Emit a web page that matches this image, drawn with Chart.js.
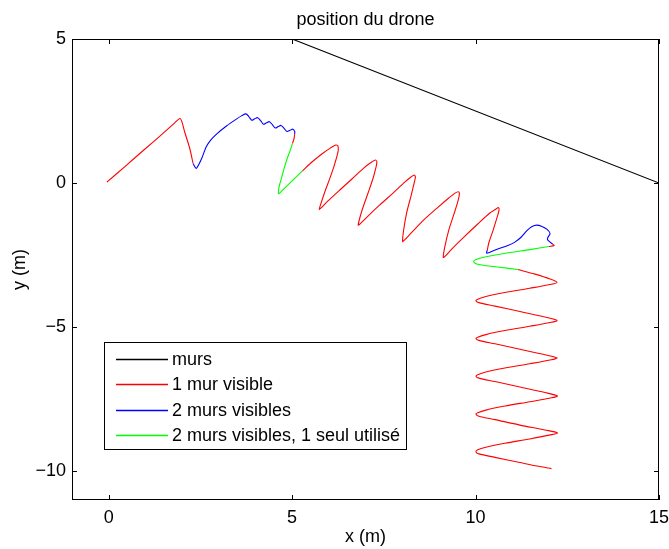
<!DOCTYPE html>
<html>
<head>
<meta charset="utf-8">
<script src="https://cdn.jsdelivr.net/npm/chart.js@4/dist/chart.umd.min.js"></script>
<style>
  html, body { margin: 0; padding: 0; background: #fff; }
  #wrap { width: 669px; height: 549px; }
</style>
</head>
<body>
<div id="wrap"><canvas id="c" width="669" height="549"></canvas></div>
<script>
// Walls of the room (x, y in metres)
const walls = [[-1, 5], [5, 5], [15, 0], [15, -11]];

// Drone trajectory, split by how many walls are seen along the way
const red1 = [[-0.05,0.03],[0.45,0.58],[0.95,1.14],[1.45,1.69],[1.80,2.09],[1.94,2.24],[1.99,2.15],[2.07,1.78],[2.21,1.20],[2.30,0.68]];
const blue1 = [[2.30,0.68],[2.35,0.56],[2.39,0.51],[2.45,0.63],[2.54,0.87],[2.66,1.26],[2.78,1.49],[2.94,1.70],[3.21,1.98],[3.48,2.22],[3.63,2.34],
  [3.74,2.40],[3.82,2.31],[3.90,2.18],[3.98,2.23],[4.06,2.27],[4.14,2.17],[4.22,2.04],[4.30,2.09],[4.38,2.13],[4.46,2.03],[4.54,1.91],[4.62,1.96],
  [4.70,2.00],[4.78,1.90],[4.86,1.79],[4.94,1.83],[5.02,1.87],[5.07,1.79],[5.07,1.70]];
const red2 = [[5.07,1.70],[5.05,1.53],[5.01,1.38]];
const green1 = [[5.01,1.38],[4.94,1.10],[4.87,0.87],[4.78,0.50],[4.72,0.22],[4.66,-0.05],[4.63,-0.24],[4.63,-0.37],[4.68,-0.32],[4.86,-0.10],[5.07,0.16],[5.28,0.42]];
const red3 = [[5.28,0.42],[5.54,0.73],[5.81,1.01],[6.05,1.22],[6.19,1.32],[6.25,1.28],[6.25,1.08],[6.16,0.66],[6.03,0.17],[5.89,-0.31],[5.78,-0.73],[5.74,-0.91],
  [5.80,-0.85],[5.97,-0.63],[6.30,-0.24],[6.63,0.14],[6.95,0.52],[7.17,0.73],[7.27,0.80],[7.31,0.73],[7.28,0.52],[7.20,0.14],[7.06,-0.38],[6.90,-0.97],[6.80,-1.46],
  [6.86,-1.41],[7.04,-1.18],[7.39,-0.76],[7.75,-0.35],[8.07,0.03],[8.24,0.21],[8.33,0.28],[8.36,0.21],[8.32,-0.03],[8.24,-0.45],[8.12,-1.04],[8.04,-1.63],[8.01,-2.03],
  [8.06,-1.98],[8.24,-1.74],[8.59,-1.28],[8.95,-0.87],[9.27,-0.52],[9.44,-0.35],[9.53,-0.30],[9.56,-0.36],[9.52,-0.63],[9.41,-1.08],[9.27,-1.63],[9.16,-2.22],[9.12,-2.58],
  [9.18,-2.53],[9.35,-2.29],[9.71,-1.84],[10.06,-1.42],[10.39,-1.04],[10.56,-0.90],[10.62,-0.85],[10.64,-0.94],[10.58,-1.22],[10.47,-1.67],[10.36,-2.08],[10.32,-2.33]];
const blue2 = [[10.32,-2.33],[10.30,-2.43],[10.39,-2.40],[10.64,-2.27],[10.88,-2.17],[11.07,-2.05],[11.24,-1.88],[11.40,-1.65],[11.54,-1.51],[11.67,-1.46],
  [11.81,-1.51],[11.95,-1.61],[12.03,-1.75],[11.97,-1.89],[11.96,-1.96],[12.03,-2.05],[12.10,-2.12]];
const red4 = [[12.10,-2.12],[12.14,-2.17],[12.00,-2.20]];
const green2 = [[12.00,-2.20],[11.48,-2.31],[10.94,-2.41],[10.39,-2.53],[10.09,-2.62],[9.95,-2.71],[10.01,-2.80],[10.25,-2.86],[10.66,-2.92],[11.15,-3.00]];
const red5 = [[11.15,-3.00],[11.62,-3.16],[12.03,-3.33],[12.22,-3.45],
  [12.03,-3.52],[11.48,-3.65],[10.80,-3.80],[10.28,-3.94],[10.06,-4.03],[10.01,-4.08],[10.09,-4.15],[10.53,-4.27],[11.21,-4.46],[11.89,-4.65],[12.22,-4.77],
  [12.03,-4.84],[11.48,-4.97],[10.80,-5.12],[10.28,-5.26],[10.06,-5.35],[10.01,-5.39],[10.09,-5.46],[10.53,-5.58],[11.21,-5.77],[11.89,-5.96],[12.22,-6.07],
  [12.03,-6.14],[11.48,-6.27],[10.80,-6.42],[10.28,-6.56],[10.06,-6.65],[10.01,-6.70],[10.09,-6.77],[10.53,-6.89],[11.21,-7.08],[11.89,-7.27],[12.23,-7.39],
  [12.04,-7.46],[11.48,-7.59],[10.80,-7.74],[10.28,-7.88],[10.06,-7.97],[10.01,-8.02],[10.09,-8.09],[10.53,-8.21],[11.21,-8.40],[11.89,-8.57],[12.23,-8.67],
  [12.04,-8.74],[11.48,-8.88],[10.80,-9.03],[10.28,-9.17],[10.06,-9.26],[10.01,-9.33],[10.09,-9.40],[10.53,-9.52],[11.21,-9.70],[11.75,-9.84],[12.07,-9.91]];

const xTicks = [0, 5, 10, 15];
const yTicks = [-10, -5, 0, 5];
const legendLabels = ['murs', '1 mur visible', '2 murs visibles', '2 murs visibles, 1 seul utilisé'];
const legendColors = ['#000000', '#ff0000', '#0000ff', '#00ff00'];

const FONT = 'Liberation Sans, Arial, Helvetica, sans-serif';
const FS = 18;
const LW = 1.1;

const toXY = arr => arr.map(p => ({ x: p[0], y: p[1] }));
const path = (pts, color, smooth) => ({
  data: toXY(pts), borderColor: color, backgroundColor: color,
  borderWidth: LW, showLine: true, pointRadius: 0, tension: smooth, fill: false
});

const datasets = [
  path(walls, legendColors[0], 0),
  path(red1, legendColors[1], 0.3), path(blue1, legendColors[2], 0.3), path(red2, legendColors[1], 0.3),
  path(green1, legendColors[3], 0.3), path(red3, legendColors[1], 0.3), path(blue2, legendColors[2], 0.3),
  path(red4, legendColors[1], 0.3), path(green2, legendColors[3], 0.3), path(red5, legendColors[1], 0.3)
];

const minus = v => String(v).replace('-', '\u2212');

// Axes box with inward ticks on all four sides, plus the plot title
const framePlugin = {
  id: 'frame',
  afterDraw(chart) {
    const { ctx, chartArea: a, scales } = chart;
    ctx.save();
    ctx.strokeStyle = '#000';
    ctx.lineWidth = 1;
    ctx.strokeRect(a.left + 0.5, a.top + 0.5, a.right - a.left - 1, a.bottom - a.top - 1);
    const tl = 5;
    ctx.beginPath();
    xTicks.forEach(v => {
      const px = Math.round(scales.x.getPixelForValue(v)) + 0.5;
      ctx.moveTo(px, a.bottom); ctx.lineTo(px, a.bottom - tl);
      ctx.moveTo(px, a.top); ctx.lineTo(px, a.top + tl);
    });
    yTicks.forEach(v => {
      const py = Math.round(scales.y.getPixelForValue(v)) + 0.5;
      ctx.moveTo(a.left, py); ctx.lineTo(a.left + tl, py);
      ctx.moveTo(a.right, py); ctx.lineTo(a.right - tl, py);
    });
    ctx.stroke();

    ctx.fillStyle = '#000';
    ctx.font = FS + 'px ' + FONT;
    ctx.textAlign = 'center';
    ctx.textBaseline = 'alphabetic';
    ctx.fillText('position du drone', (a.left + a.right) / 2, 25);
    ctx.restore();
  }
};

// Legend box in the lower-left corner of the plot area
const legendPlugin = {
  id: 'boxLegend',
  afterDraw(chart) {
    const { ctx } = chart;
    const bx = 104.5, by = 342.5, bw = 302, bh = 107;
    ctx.save();
    ctx.fillStyle = '#fff';
    ctx.fillRect(bx, by, bw, bh);
    ctx.strokeStyle = '#000';
    ctx.lineWidth = 1;
    ctx.strokeRect(bx, by, bw, bh);
    ctx.font = FS + 'px ' + FONT;
    ctx.textAlign = 'left';
    ctx.textBaseline = 'middle';
    legendLabels.forEach((lab, i) => {
      const cy = 359 + i * 25.4;
      ctx.strokeStyle = legendColors[i];
      ctx.lineWidth = 1.4;
      ctx.beginPath();
      ctx.moveTo(116, Math.round(cy) + 0.5);
      ctx.lineTo(168, Math.round(cy) + 0.5);
      ctx.stroke();
      ctx.fillStyle = '#000';
      ctx.fillText(lab, 172, cy + 1);
    });
    ctx.restore();
  }
};

const noPad = s => { s.paddingLeft = 0; s.paddingRight = 0; s.paddingTop = 0; s.paddingBottom = 0; };

new Chart(document.getElementById('c'), {
  type: 'scatter',
  data: { datasets },
  options: {
    responsive: false,
    animation: false,
    layout: { padding: { top: 39, right: 10, left: 0, bottom: 0 } },
    plugins: { legend: { display: false }, tooltip: { enabled: false }, title: { display: false } },
    scales: {
      x: {
        type: 'linear', min: -1, max: 15,
        afterBuildTicks: s => { s.ticks = xTicks.map(v => ({ value: v })); },
        afterFit: s => { s.height = 49; noPad(s); },
        grid: { display: false, drawTicks: false },
        border: { display: false },
        ticks: { color: '#000', padding: 7, font: { family: FONT, size: FS }, callback: minus, maxRotation: 0 },
        title: { display: true, text: 'x (m)', color: '#000', font: { family: FONT, size: FS }, padding: { top: 1, bottom: 1 } }
      },
      y: {
        type: 'linear', min: -11, max: 5,
        afterBuildTicks: s => { s.ticks = yTicks.map(v => ({ value: v })); },
        afterFit: s => { s.width = 72; noPad(s); },
        grid: { display: false, drawTicks: false },
        border: { display: false },
        ticks: { color: '#000', padding: 6, font: { family: FONT, size: FS }, callback: minus },
        title: { display: true, text: 'y (m)', color: '#000', font: { family: FONT, size: FS }, padding: { top: 9, bottom: 9 } }
      }
    }
  },
  plugins: [framePlugin, legendPlugin]
});
</script>
</body>
</html>
